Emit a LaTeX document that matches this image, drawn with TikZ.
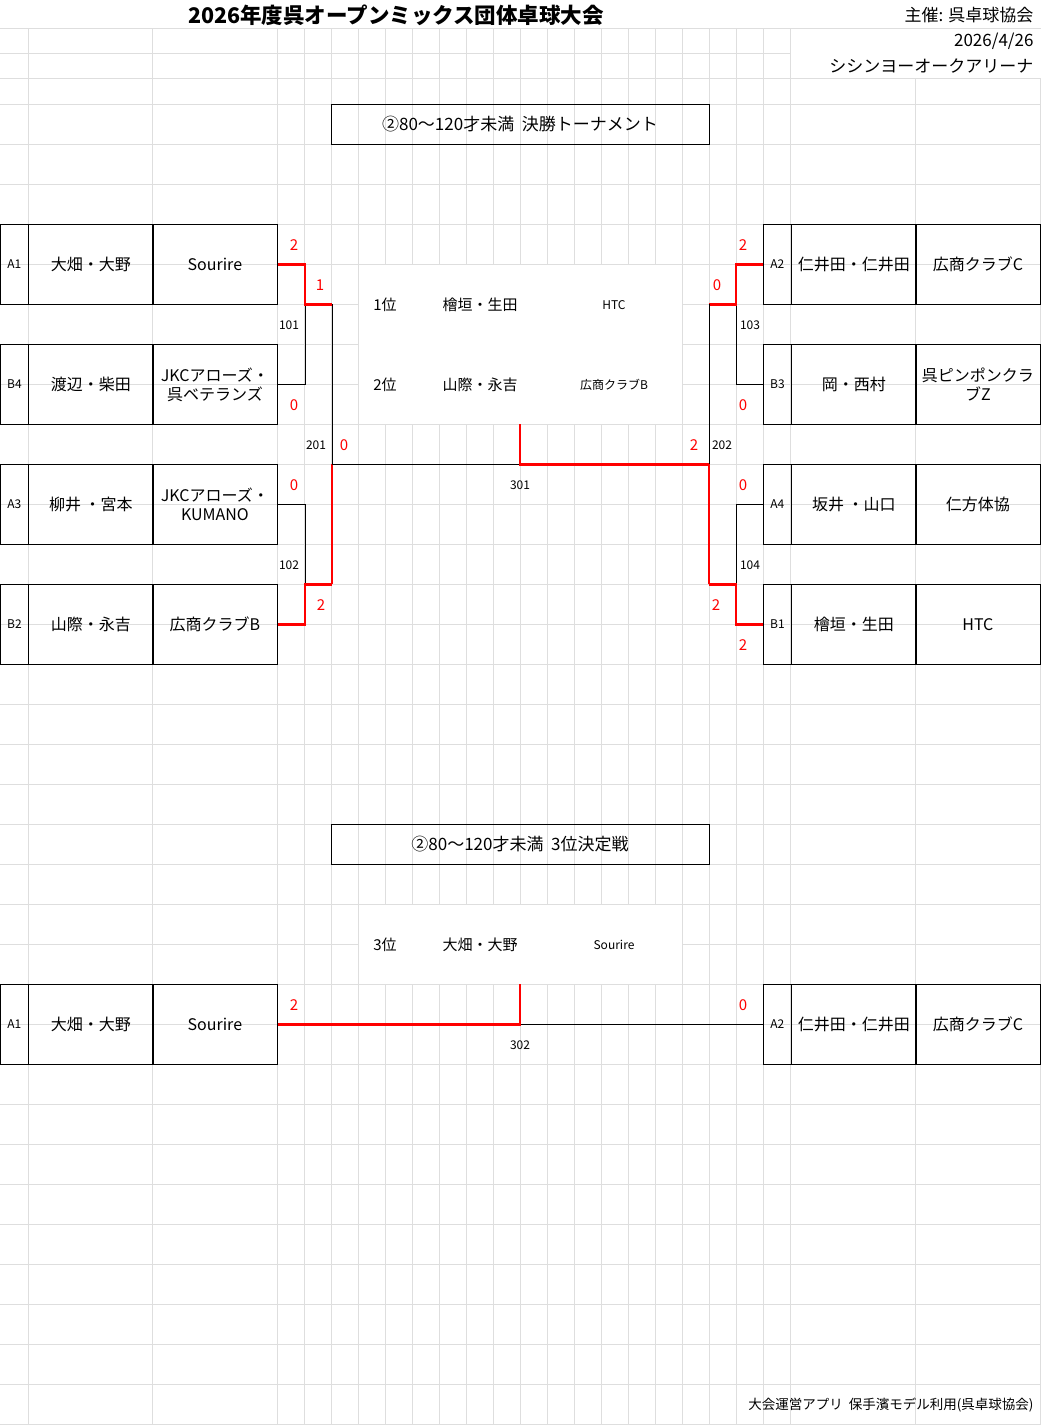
\documentclass[tikz,border=0pt]{standalone}
\usepackage{fontspec}
\setmainfont{Noto Sans CJK JP}
\usetikzlibrary{positioning}
\tikzstyle{cell}=[draw,thick,anchor=north west,inner sep=0pt,minimum height=80pt,align=center,font=\fontsize{16}{19}\selectfont]
\tikzstyle{seed}=[cell,minimum width=28pt,font=\fontsize{12}{14}\selectfont]
\tikzstyle{wide}=[cell,minimum width=125pt]
\tikzstyle{win}=[draw,red,line width=2.2pt]
\tikzstyle{lose}=[draw,thin]
\tikzstyle{pt}=[red,font=\fontsize{15}{17}\selectfont]
\tikzstyle{no}=[font=\fontsize{12}{14}\selectfont]
\tikzstyle{res}=[font=\fontsize{15}{18}\selectfont]
\tikzstyle{headbox}=[draw,thick,minimum width=378pt,minimum height=40pt,font=\fontsize{17}{20}\selectfont]
\newcommand{\team}[6]{%
  \node[seed] (#1s) at (#2,#3) {#4};
  \node[wide] (#1p) at (#2+28,#3) {#5};
  \node[wide] (#1c) at (#2+152,#3) {#6};
}
\begin{document}
\begin{tikzpicture}[x=1pt,y=-1pt]
  \useasboundingbox (0,0) rectangle (1041,1425);
  \fill[white] (0,0) rectangle (1041,1425);
  % sheet grid
  \foreach \y in {28,53,78,104,144,184,...,1424}
    \draw[black!13] (0,\y) -- (1041,\y);
  \foreach \x in {28,152,277,304,331,...,736,763,790,915,1040}
    \draw[black!13] (\x,28) -- (\x,1425);
  \fill[white] (0,0) rectangle (1041,27.5);
  \fill[white] (790.5,28.5) rectangle (1041,77.5);
  \fill[white] (358.5,264.5) rectangle (681.5,423.5);
  \fill[white] (358.5,904.5) rectangle (681.5,983.5);

  % header
  \node[font=\fontsize{21.5}{24}\selectfont\bfseries] (title) at (396,15) {2026年度呉オープンミックス団体卓球大会};
  \node[anchor=east,font=\fontsize{17}{19}\selectfont] (host) at (1037,15) {主催: 呉卓球協会};
  \node[anchor=east,font=\fontsize{17}{19}\selectfont] (date) at (1037,41) {2026/4/26};
  \node[anchor=east,font=\fontsize{17}{19}\selectfont] (venue) at (1037,66) {シシンヨーオークアリーナ};
  \node[headbox] (final) at (520,124) {②80～120才未満\ \ 決勝トーナメント};

  % teams
  \team{A1}{0}{224}{A1}{大畑・大野}{Sourire}
  \team{B4}{0}{344}{B4}{渡辺・柴田}{JKCアローズ・\\呉ベテランズ}
  \team{A3}{0}{464}{A3}{柳井 ・宮本}{JKCアローズ・\\KUMANO}
  \team{B2}{0}{584}{B2}{山際・永吉}{広商クラブB}
  \team{A2}{763}{224}{A2}{仁井田・仁井田}{広商クラブC}
  \team{B3}{763}{344}{B3}{岡・西村}{呉ピンポンクラ\\ブZ}
  \team{A4}{763}{464}{A4}{坂井 ・山口}{仁方体協}
  \team{B1}{763}{584}{B1}{檜垣・生田}{HTC}

  % result
  \node[res] (r1) at (385,305) {1位};
  \node[res] (r1p) at (480,305) {檜垣・生田};
  \node[no] (r1c) at (614,305) {HTC};
  \node[res] (r2) at (385,385) {2位};
  \node[res] (r2p) at (480,385) {山際・永吉};
  \node[no] (r2c) at (614,385) {広商クラブB};
  \coordinate (top) at (520,424);

  % left side
  \draw[lose] (B4c.east) -- ++(27,0) -- ++(0,-80);
  \draw[win] (A1c.east) -- ++(27,0) -- ++(0,40) -- ++(27,0) coordinate (w101);
  \draw[lose] (A3c.east) -- ++(27,0) -- ++(0,80);
  \draw[win] (B2c.east) -- ++(27,0) -- ++(0,-40) -- ++(27,0) coordinate (w102);
  \draw[lose] (w101) -- ++(0,160);
  \draw[win] (w102) -- ++(0,-120) coordinate (w201);
  \draw[lose] (w201) -- (w201 -| top);
  % right side
  \draw[lose] (B3s.west) -- ++(-27,0) -- ++(0,-80);
  \draw[win] (A2s.west) -- ++(-27,0) -- ++(0,40) -- ++(-27,0) coordinate (w103);
  \draw[lose] (A4s.west) -- ++(-27,0) -- ++(0,80);
  \draw[win] (B1s.west) -- ++(-27,0) -- ++(0,-40) -- ++(-27,0) coordinate (w104);
  \draw[lose] (w103) -- ++(0,160);
  \draw[win] (w104) -- ++(0,-120) coordinate (w202);
  \draw[win] (w202) -- (w202 -| top) -- (top);

  % scores
  \node[pt] at (294,245) {2};
  \node[pt] at (320,285) {1};
  \node[no] at (289,325) {101};
  \node[pt] at (294,405) {0};
  \node[no] at (316,445) {201};
  \node[pt] at (344,445) {0};
  \node[pt] at (294,485) {0};
  \node[no] at (289,565) {102};
  \node[pt] at (321,605) {2};
  \node[pt] at (743,245) {2};
  \node[pt] at (717,285) {0};
  \node[no] at (750,325) {103};
  \node[pt] at (743,405) {0};
  \node[pt] at (694,445) {2};
  \node[no] at (722,445) {202};
  \node[no] at (520,485) {301};
  \node[pt] at (743,485) {0};
  \node[no] at (750,565) {104};
  \node[pt] at (716,605) {2};
  \node[pt] at (743,645) {2};

  % third place
  \node[headbox] (third) at (520,844) {②80～120才未満\ \ 3位決定戦};
  \node[res] (r3) at (385,945) {3位};
  \node[res] (r3p) at (480,945) {大畑・大野};
  \node[no] (r3c) at (614,945) {Sourire};
  \team{C1}{0}{984}{A1}{大畑・大野}{Sourire}
  \team{C2}{763}{984}{A2}{仁井田・仁井田}{広商クラブC}
  \coordinate (mid) at (520,984);
  \draw[lose] (C2s.west) -- (C2s.west -| mid);
  \draw[win] (C1c.east) -- (C1c.east -| mid) -- (mid);
  \node[pt] at (294,1005) {2};
  \node[pt] at (743,1005) {0};
  \node[no] at (520,1045) {302};

  \node[anchor=east,font=\fontsize{13.5}{15}\selectfont] (foot) at (1037,1405) {大会運営アプリ\ \ 保手濱モデル利用(呉卓球協会)};
\end{tikzpicture}
\end{document}
